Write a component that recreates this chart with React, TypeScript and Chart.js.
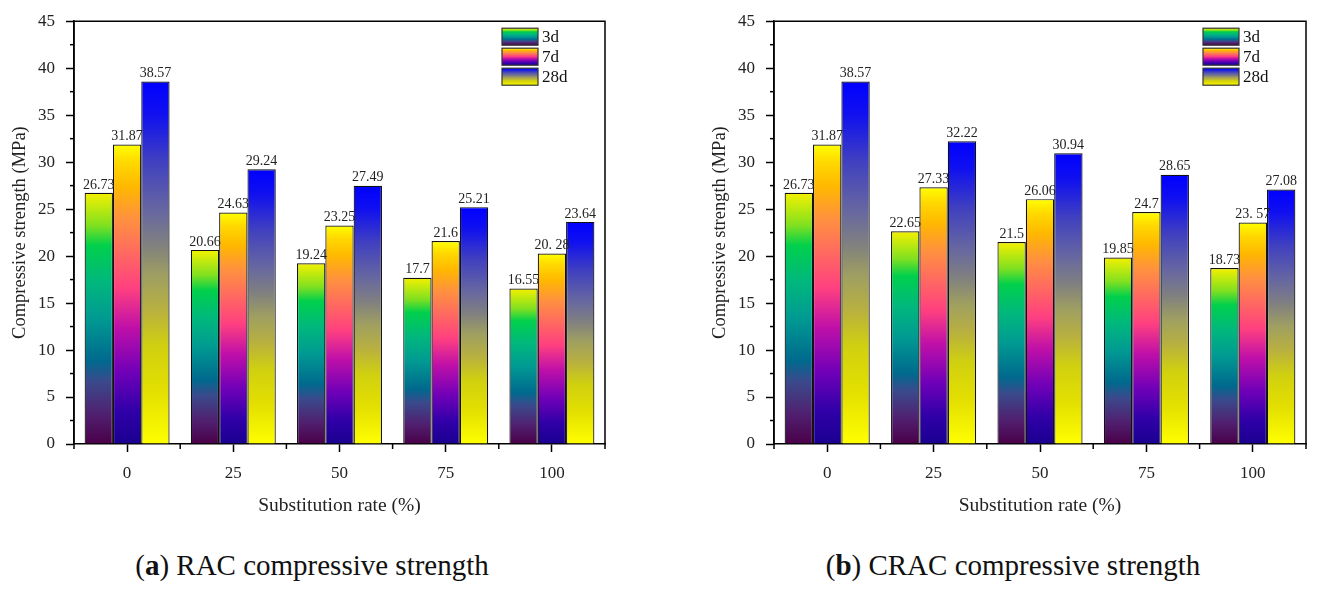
import { useEffect, useRef } from "react"
import { Chart, registerables } from "chart.js"

Chart.register(...registerables)

const categories = ["0", "25", "50", "75", "100"]
const seriesNames = ["3d", "7d", "28d"]

// RAC
const rac3d = [26.73, 20.66, 19.24, 17.7, 16.55]
const rac7d = [31.87, 24.63, 23.25, 21.6, 20.28]
const rac28d = [38.57, 29.24, 27.49, 25.21, 23.64]
const racLabels3d = ["26.73", "20.66", "19.24", "17.7", "16.55"]
const racLabels7d = ["31.87", "24.63", "23.25", "21.6", "20. 28"]
const racLabels28d = ["38.57", "29.24", "27.49", "25.21", "23.64"]

// CRAC
const crac3d = [26.73, 22.65, 21.5, 19.85, 18.73]
const crac7d = [31.87, 27.33, 26.06, 24.7, 23.57]
const crac28d = [38.57, 32.22, 30.94, 28.65, 27.08]
const cracLabels3d = ["26.73", "22.65", "21.5", "19.85", "18.73"]
const cracLabels7d = ["31.87", "27.33", "26.06", "24.7", "23. 57"]
const cracLabels28d = ["38.57", "32.22", "30.94", "28.65", "27.08"]

const yTicks = [0, 5, 10, 15, 20, 25, 30, 35, 40, 45]

// gradient stops, bottom (0) to top (1)
const stops: [number, string][][] = [
  [
    [0, "#4a0048"],
    [0.12, "#502070"],
    [0.25, "#3a4a8c"],
    [0.33, "#00698e"],
    [0.5, "#009a92"],
    [0.65, "#00b87c"],
    [0.79, "#00d04c"],
    [0.87, "#80e020"],
    [1, "#f5f000"],
  ],
  [
    [0, "#1a0090"],
    [0.11, "#3000a8"],
    [0.24, "#7000b8"],
    [0.39, "#c010a8"],
    [0.52, "#ff4080"],
    [0.64, "#ff6a60"],
    [0.75, "#ff9040"],
    [0.86, "#ffb800"],
    [0.94, "#ffd800"],
    [1, "#ffff00"],
  ],
  [
    [0, "#ffff00"],
    [0.14, "#e4e000"],
    [0.27, "#d0d010"],
    [0.37, "#b8b040"],
    [0.46, "#a0a060"],
    [0.55, "#808080"],
    [0.64, "#6868a0"],
    [0.78, "#4040c0"],
    [0.91, "#1010f0"],
    [1, "#0000ff"],
  ],
]

const FONT = "'Liberation Serif', 'Times New Roman', serif"

function makeGradient(ctx: CanvasRenderingContext2D, yBottom: number, yTop: number, s: [number, string][]) {
  const g = ctx.createLinearGradient(0, yBottom, 0, yTop)
  s.forEach(([o, c]) => g.addColorStop(o, c))
  return g
}

const framePlugin = {
  id: "frame",
  afterDraw(chart: any) {
    const { ctx, chartArea, scales } = chart
    const { left, right, top, bottom } = chartArea
    ctx.save()
    ctx.strokeStyle = "#000"
    ctx.lineWidth = 1.5
    ctx.beginPath()
    ctx.moveTo(left, bottom)
    ctx.lineTo(left, top)
    ctx.lineTo(right, top)
    ctx.lineTo(right, bottom)
    ctx.stroke()

    // minor y ticks
    for (let i = 0; i < yTicks.length - 1; i++) {
      const y = scales.y.getPixelForValue((yTicks[i] + yTicks[i + 1]) / 2)
      ctx.beginPath()
      ctx.moveTo(left - 4, y)
      ctx.lineTo(left, y)
      ctx.stroke()
    }
    // minor x ticks at category boundaries
    for (let i = 0; i <= categories.length; i++) {
      const x = scales.x.getPixelForValue(i - 0.5)
      ctx.beginPath()
      ctx.moveTo(x, bottom)
      ctx.lineTo(x, bottom + 5)
      ctx.stroke()
    }

    // legend
    chart.data.datasets.forEach((ds: any, i: number) => {
      const x = right - 103
      const y = top + 7 + i * 20
      ctx.fillStyle = makeGradient(ctx, y + 17, y, stops[i])
      ctx.fillRect(x, y, 36, 17)
      ctx.lineWidth = 1.2
      ctx.strokeStyle = "#333"
      ctx.strokeRect(x, y, 36, 17)
      ctx.fillStyle = "#111"
      ctx.font = `17px ${FONT}`
      ctx.textAlign = "left"
      ctx.textBaseline = "middle"
      ctx.fillText(ds.label, x + 40, y + 9)
    })
    ctx.restore()
  },
  afterDatasetsDraw(chart: any) {
    const { ctx } = chart
    ctx.save()
    ctx.font = `14px ${FONT}`
    ctx.fillStyle = "#222"
    ctx.textAlign = "center"
    ctx.textBaseline = "bottom"
    chart.data.datasets.forEach((ds: any, i: number) => {
      const meta = chart.getDatasetMeta(i)
      meta.data.forEach((bar: any, j: number) => {
        ctx.fillText(ds.valueLabels[j], bar.x, bar.y - 1)
      })
    })
    ctx.restore()
  },
}

interface StrengthChartProps {
  series: number[][]
  labels: string[][]
  rightPad: number
}

function StrengthChart({ series, labels, rightPad }: StrengthChartProps) {
  const chartRef = useRef<HTMLCanvasElement>(null)
  const chartInstance = useRef<Chart | null>(null)

  useEffect(() => {
    if (!chartRef.current) return
    if (chartInstance.current) chartInstance.current.destroy()
    const ctx = chartRef.current.getContext("2d")
    if (!ctx) return

    chartInstance.current = new Chart(ctx, {
      type: "bar",
      data: {
        labels: categories,
        datasets: series.map((values, i) => ({
          label: seriesNames[i],
          data: values,
          valueLabels: labels[i],
          borderColor: "#111",
          borderWidth: 1.2,
          backgroundColor: (c: any) => {
            const chart = c.chart
            if (!chart.chartArea || c.type !== "data") return stops[i][stops[i].length - 1][1]
            const y0 = chart.scales.y.getPixelForValue(0)
            const y1 = chart.scales.y.getPixelForValue(values[c.dataIndex])
            return makeGradient(chart.ctx, y0, y1, stops[i])
          },
          categoryPercentage: 0.8,
          barPercentage: 1.0,
        })) as any,
      },
      options: {
        animation: false,
        responsive: true,
        maintainAspectRatio: false,
        layout: { padding: { top: 18, right: rightPad, left: 0, bottom: 0 } },
        plugins: {
          legend: { display: false },
          tooltip: { enabled: false },
        },
        scales: {
          x: {
            afterFit: (s: any) => {
              s.height = 86
            },
            grid: {
              display: true,
              drawOnChartArea: false,
              offset: false,
              tickLength: 8,
              tickWidth: 1.5,
              tickColor: "#000",
            },
            border: { display: true, color: "#000", width: 1.5 },
            ticks: {
              color: "#222",
              font: { family: FONT, size: 17 },
              padding: 11,
            },
            title: {
              display: true,
              text: "Substitution rate (%)",
              color: "#222",
              font: { family: FONT, size: 19.5 },
              padding: { top: 12, bottom: 12 },
            },
          },
          y: {
            min: 0,
            max: 45,
            afterFit: (s: any) => {
              s.width = 74
            },
            afterBuildTicks: (s: any) => {
              s.ticks = yTicks.map((v) => ({ value: v }))
            },
            grid: {
              display: true,
              drawOnChartArea: false,
              tickLength: 8,
              tickWidth: 1.5,
              tickColor: "#000",
            },
            border: { display: true, color: "#000", width: 1.5 },
            ticks: {
              color: "#222",
              font: { family: FONT, size: 17 },
              padding: 11,
            },
            title: {
              display: true,
              text: "Compressive strength (MPa)",
              color: "#222",
              font: { family: FONT, size: 18.5 },
              padding: { top: 9, bottom: 9 },
            },
          },
        },
      },
      plugins: [framePlugin],
    })

    return () => {
      if (chartInstance.current) chartInstance.current.destroy()
    }
  }, [series, labels, rightPad])

  return <canvas ref={chartRef} />
}

const captionStyle: React.CSSProperties = {
  position: "absolute",
  top: 549,
  width: 500,
  textAlign: "center",
  fontFamily: FONT,
  fontSize: 29,
  color: "#111",
}

export default function App() {
  return (
    <div style={{ position: "fixed", left: 0, top: 0, width: 1317, height: 596, background: "#fff" }}>
      <div style={{ position: "absolute", left: 0, top: 0, width: 640, height: 530 }}>
        <StrengthChart series={[rac3d, rac7d, rac28d]} labels={[racLabels3d, racLabels7d, racLabels28d]} rightPad={35} />
      </div>
      <div style={{ position: "absolute", left: 700, top: 0, width: 617, height: 530 }}>
        <StrengthChart series={[crac3d, crac7d, crac28d]} labels={[cracLabels3d, cracLabels7d, cracLabels28d]} rightPad={11} />
      </div>
      <div style={{ ...captionStyle, left: 312 - 250 }}>
        (<b>a</b>) RAC compressive strength
      </div>
      <div style={{ ...captionStyle, left: 1013 - 250 }}>
        (<b>b</b>) CRAC compressive strength
      </div>
    </div>
  )
}
